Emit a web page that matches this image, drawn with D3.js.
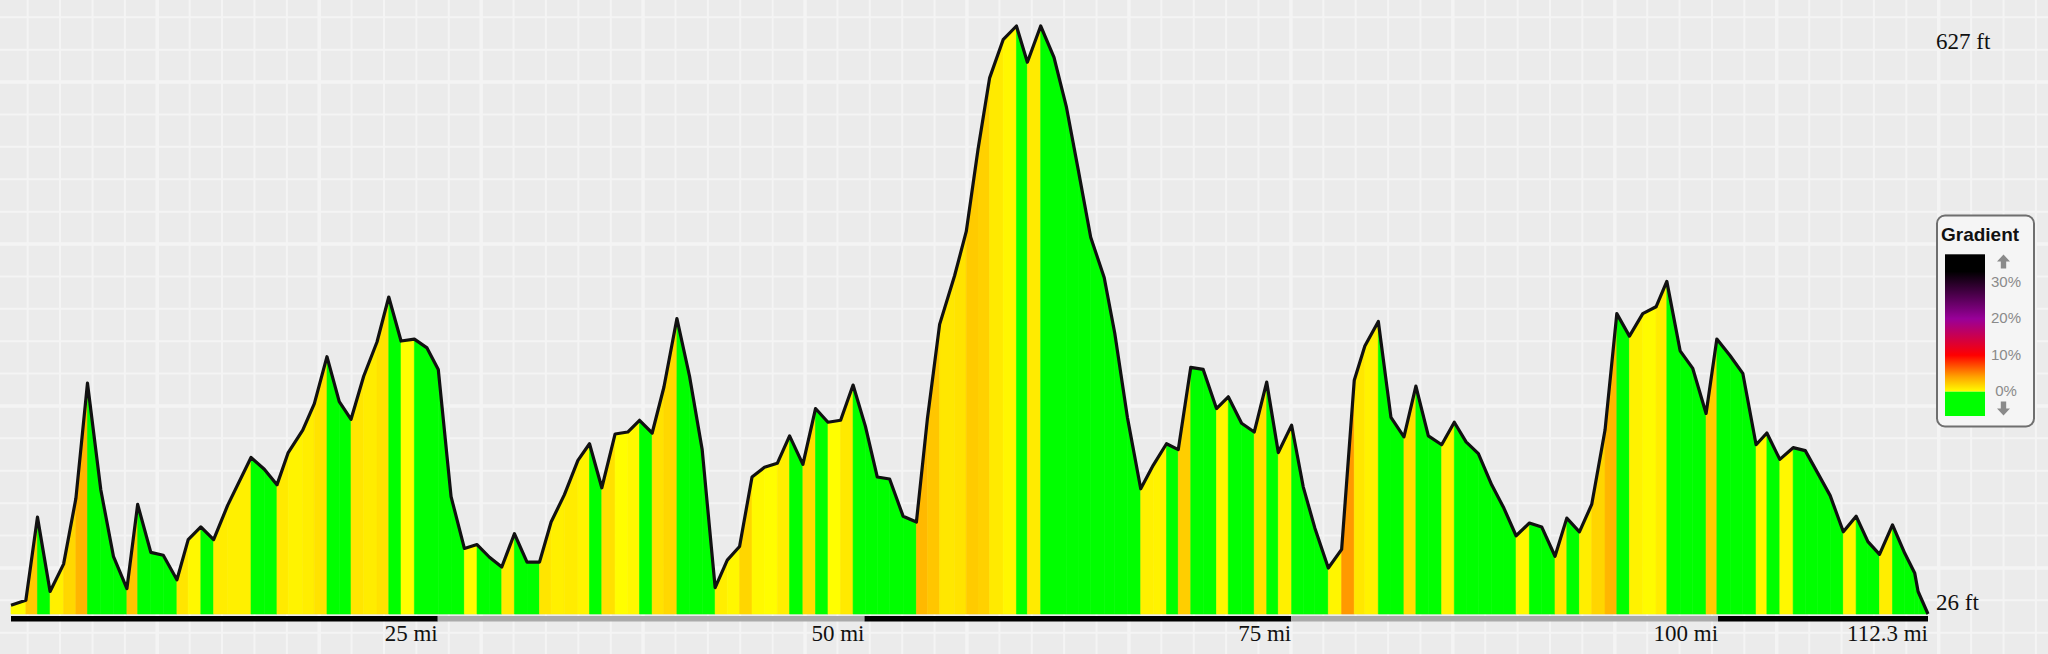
<!DOCTYPE html>
<html>
<head>
<meta charset="utf-8">
<script src="https://cdn.jsdelivr.net/npm/d3@7/dist/d3.min.js"></script>
<style>
  html, body { margin: 0; padding: 0; background: #ebebeb; }
  svg { display: block; }
</style>
</head>
<body>
<div id="profile"></div>
<script>
// distance along the route (miles) and elevation (feet)
const distances = [
  0.00, 0.87, 1.55, 2.29, 3.08, 3.80, 4.48, 5.26, 6.00, 6.79,
  7.42, 8.19, 8.92, 9.72, 10.38, 11.12, 11.87, 12.69, 14.06, 14.84,
  15.58, 16.24, 17.09, 17.77, 18.51, 19.23, 19.92, 20.66, 21.44, 22.13,
  22.85, 23.63, 24.37, 25.03, 25.78, 26.56, 27.30, 28.03, 28.75, 29.49,
  30.23, 30.96, 31.64, 32.42, 33.21, 33.89, 34.61, 35.39, 36.13, 36.82,
  37.56, 38.25, 39.01, 39.75, 40.49, 41.25, 41.96, 42.68, 43.41, 44.14,
  44.89, 45.61, 46.39, 47.13, 47.86, 48.60, 49.33, 50.05, 50.75, 51.47,
  52.26, 53.04, 53.68, 54.40, 55.28, 55.96, 56.65, 57.33, 58.12, 58.90,
  59.54, 60.32, 61.10, 61.83, 62.51, 63.25, 64.04, 64.66, 65.40, 66.18,
  66.91, 67.69, 68.38, 69.11, 69.84, 70.62, 71.31, 72.09, 72.83, 73.56,
  74.24, 75.02, 75.70, 76.38, 77.17, 77.95, 78.69, 79.31, 80.10, 80.84,
  81.60, 82.30, 83.03, 83.81, 84.55, 85.24, 85.96, 86.74, 87.46, 88.17,
  88.95, 89.67, 90.45, 91.14, 91.88, 92.60, 93.38, 94.07, 94.81, 95.59,
  96.37, 97.00, 97.78, 98.52, 99.30, 99.93, 100.71, 101.45, 102.23, 102.86,
  103.62, 104.40, 105.11, 105.81, 106.57, 107.34, 108.09, 108.78, 109.46, 110.22,
  110.94, 111.52, 111.72, 112.30
]
const elevations = [
  35, 40, 125, 49, 77, 144, 262, 153, 85, 52,
  138, 89, 86, 61, 102, 115, 102, 137, 186, 174,
  158, 191, 214, 241, 289, 243, 225, 269, 304, 350,
  305, 307, 298, 276, 146, 93, 97, 84, 74, 108,
  79, 79, 120, 148, 183, 200, 155, 210, 212, 224,
  211, 258, 328, 269, 194, 53, 81, 95, 166, 176,
  180, 208, 179, 236, 222, 224, 260, 218, 166, 164,
  126, 120, 225, 322, 372, 417, 501, 574, 613, 627,
  590, 627, 595, 544, 481, 411, 370, 313, 227, 154,
  178, 200, 194, 278, 276, 236, 248, 221, 212, 263,
  191, 219, 156, 114, 73, 92, 265, 300, 325, 227,
  207, 259, 208, 199, 222, 202, 190, 158, 134, 106,
  119, 115, 85, 124, 110, 138, 214, 333, 310, 333,
  340, 366, 295, 277, 231, 307, 290, 272, 199, 211,
  184, 196, 193, 171, 147, 110, 126, 100, 87, 117,
  88, 68, 49, 26
]

const distTicks = [25, 50, 75, 100, 112.3]
const distLabels = ['25 mi', '50 mi', '75 mi', '100 mi', '112.3 mi']
const elevLabels = ['627 ft', '26 ft']
const legendTicks = [30, 20, 10, 0]
const legendLabels = ['30%', '20%', '10%', '0%']

const width = 2048
const height = 654

const svg = d3
  .select('#profile')
  .append('svg')
  .attr('width', width)
  .attr('height', height)

// graph-paper background
const grid = svg.append('g').attr('class', 'grid')
grid.append('rect').attr('width', width).attr('height', height).attr('fill', '#ebebeb')
const step = 32.39
for (let k = -1; k * step + 27.7 < width; k++) {
  const gx = 27.7 + k * step
  grid.append('line')
    .attr('x1', gx).attr('x2', gx).attr('y1', 0).attr('y2', height)
    .attr('stroke', '#f4f4f4')
    .attr('stroke-width', ((k % 5) + 5) % 5 === 4 ? 3.5 : 2)
}
for (let k = -1; k * step + 17.3 < height; k++) {
  const gy = 17.3 + k * step
  grid.append('line')
    .attr('x1', 0).attr('x2', width).attr('y1', gy).attr('y2', gy)
    .attr('stroke', '#f4f4f4')
    .attr('stroke-width', ((k % 5) + 5) % 5 === 2 ? 3.5 : 2)
}

const x = d3.scaleLinear().domain([0, 112.3]).range([11, 1928])
const y = d3.scaleLinear().domain([26, 627]).range([614, 26])

// grade (%) -> colour, same ramp as the legend
const gradeColor = d3.scaleLinear()
  .domain([0, 4, 10, 20, 33])
  .range(['#ffff00', '#ffa500', '#ff0000', '#990099', '#000000'])
  .clamp(true)
function colorFor(g) {
  return g <= 0 ? '#00ff00' : gradeColor(g)
}

const points = distances.map((d, i) => ({ d: d, e: elevations[i] }))

const area = d3.area()
  .x(p => x(p.d))
  .y0(y(26))
  .y1(p => y(p.e))

const segments = d3.pairs(points)
svg.append('g')
  .selectAll('path')
  .data(segments)
  .enter()
  .append('path')
  .attr('d', s => area(s))
  .attr('fill', s => colorFor((s[1].e - s[0].e) / ((s[1].d - s[0].d) * 5280) * 100))
  .attr('stroke', s => colorFor((s[1].e - s[0].e) / ((s[1].d - s[0].d) * 5280) * 100))
  .attr('stroke-width', 0.6)

const line = d3.line()
  .x(p => x(p.d))
  .y(p => y(p.e))

svg.append('path')
  .datum(points)
  .attr('d', line)
  .attr('fill', 'none')
  .attr('stroke', '#111')
  .attr('stroke-width', 3.2)
  .attr('stroke-linejoin', 'round')

// distance bar, alternating every 25 mi
const barStops = [0].concat(distTicks)
svg.append('g')
  .selectAll('rect')
  .data(d3.pairs(barStops))
  .enter()
  .append('rect')
  .attr('x', s => x(s[0]))
  .attr('width', s => x(s[1]) - x(s[0]))
  .attr('y', 616)
  .attr('height', 5.5)
  .attr('fill', (s, i) => (i % 2 === 0 ? '#000' : '#aaa'))

svg.append('g')
  .selectAll('text')
  .data(distTicks)
  .enter()
  .append('text')
  .attr('x', d => x(d))
  .attr('y', 641)
  .attr('text-anchor', 'end')
  .style('font-family', '"Liberation Serif", "Times New Roman", serif')
  .style('font-size', '23px')
  .attr('fill', '#111')
  .text((d, i) => distLabels[i])

svg.append('text')
  .attr('x', 1936)
  .attr('y', 49)
  .style('font-family', '"Liberation Serif", "Times New Roman", serif')
  .style('font-size', '23px')
  .attr('fill', '#111')
  .text(elevLabels[0])

svg.append('text')
  .attr('x', 1936)
  .attr('y', 610)
  .style('font-family', '"Liberation Serif", "Times New Roman", serif')
  .style('font-size', '23px')
  .attr('fill', '#111')
  .text(elevLabels[1])

// legend
const legend = svg.append('g').attr('class', 'legend')
legend.append('rect')
  .attr('x', 1937).attr('y', 215.5)
  .attr('width', 97).attr('height', 211)
  .attr('rx', 8)
  .attr('fill', '#f5f5f5')
  .attr('stroke', '#6f6f6f')
  .attr('stroke-width', 2)

legend.append('text')
  .attr('x', 1941)
  .attr('y', 241)
  .style('font-family', '"Liberation Sans", Arial, sans-serif')
  .style('font-weight', 'bold')
  .style('font-size', '19px')
  .attr('fill', '#111')
  .text('Gradient')

const ly = d3.scaleLinear().domain([0, 37.7]).range([391.7, 254.3])

const defs = svg.append('defs')
const lg = defs.append('linearGradient')
  .attr('id', 'grade-ramp')
  .attr('x1', 0).attr('x2', 0).attr('y1', 1).attr('y2', 0)
gradeColor.domain().forEach(v => {
  lg.append('stop')
    .attr('offset', (v / 37.7 * 100) + '%')
    .attr('stop-color', gradeColor(v))
})

legend.append('rect')
  .attr('x', 1945).attr('y', ly(37.7))
  .attr('width', 40).attr('height', ly(0) - ly(37.7))
  .attr('fill', 'url(#grade-ramp)')
legend.append('rect')
  .attr('x', 1945).attr('y', ly(0))
  .attr('width', 40).attr('height', 416 - ly(0))
  .attr('fill', '#00ff00')

legend.append('g')
  .selectAll('text')
  .data(legendTicks)
  .enter()
  .append('text')
  .attr('x', 2006)
  .attr('y', d => ly(d) + 4.5)
  .attr('text-anchor', 'middle')
  .style('font-family', '"Liberation Sans", Arial, sans-serif')
  .style('font-size', '15px')
  .attr('fill', '#8a8a8a')
  .text((d, i) => legendLabels[i])

legend.append('path')
  .attr('d', 'M2003.5,254.5 L2010,261.5 L2006.2,261.5 L2006.2,268.5 L2000.8,268.5 L2000.8,261.5 L1997,261.5 Z')
  .attr('fill', '#8a8a8a')
legend.append('path')
  .attr('d', 'M2003.5,415.5 L2010,408.5 L2006.2,408.5 L2006.2,401.5 L2000.8,401.5 L2000.8,408.5 L1997,408.5 Z')
  .attr('fill', '#8a8a8a')
</script>
</body>
</html>
